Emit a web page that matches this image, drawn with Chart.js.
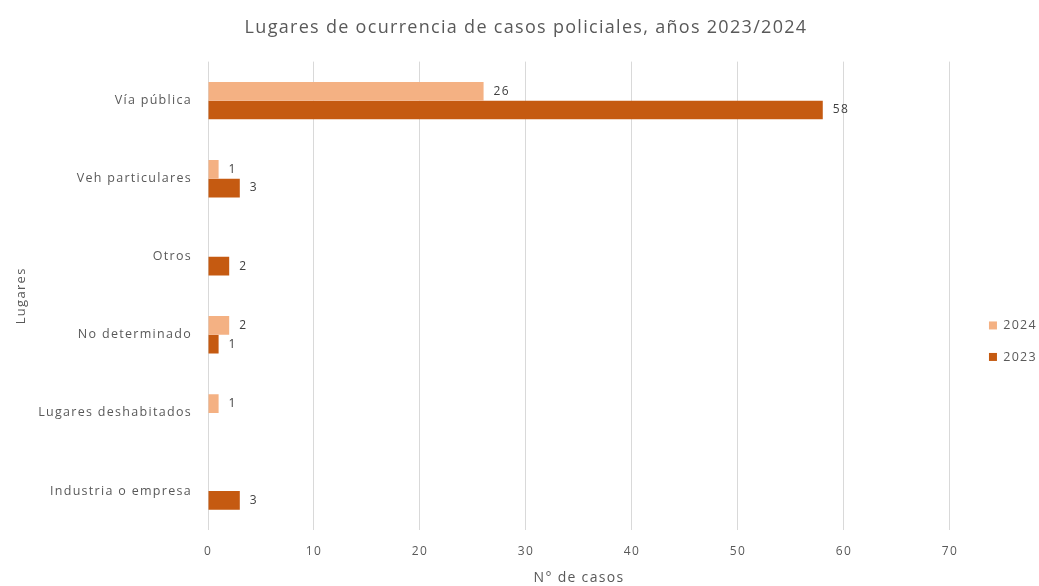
<!DOCTYPE html>
<html>
<head>
<meta charset="utf-8">
<script src="https://cdn.jsdelivr.net/npm/chart.js@4"></script>
<style>
  html, body { margin: 0; padding: 0; background: #fff; }
  #wrap { width: 1039px; height: 586px; }
</style>
</head>
<body>
<div id="wrap"><canvas id="myChart"></canvas></div>
<script>
// data
const lugares = [
  'Vía pública',
  'Veh particulares',
  'Otros',
  'No determinado',
  'Lugares deshabitados',
  'Industria o empresa'
];
const casos2024 = [26, 1, null, 2, 1, null];
const casos2023 = [58, 3, 2, 1, null, 3];
const xTicks = [0, 10, 20, 30, 40, 50, 60, 70];

const txt = '#595959';
const fam = '"Open Sans", sans-serif';
const spacing = '1.3px';

// the original text is spaced out a bit, so widen letters everywhere
const letterSpace = {
  id: 'letterSpace',
  beforeLayout(chart) { chart.ctx.letterSpacing = spacing; },
  beforeDraw(chart) { chart.ctx.letterSpacing = spacing; },
  afterLayout(chart) {
    // push legend items further right of the plot
    chart.legend.left += 20;
    chart.legend.right += 20;
  }
};

// value labels at the end of each bar
const barLabels = {
  id: 'barLabels',
  afterDatasetsDraw(chart) {
    const ctx = chart.ctx;
    ctx.save();
    ctx.letterSpacing = spacing;
    ctx.font = '12px ' + fam;
    ctx.fillStyle = '#404040';
    ctx.textAlign = 'left';
    ctx.textBaseline = 'middle';
    chart.data.datasets.forEach((ds, i) => {
      chart.getDatasetMeta(i).data.forEach((bar, j) => {
        const v = ds.data[j];
        if (v == null) return;
        ctx.fillText(v, bar.x + 10, bar.y);
      });
    });
    ctx.restore();
  }
};

const data = {
  labels: lugares,
  datasets: [{
    label: '2024',
    data: casos2024,
    backgroundColor: '#F4B183',
    categoryPercentage: 0.48,
    barPercentage: 1
  }, {
    label: '2023',
    data: casos2023,
    backgroundColor: '#C55A11',
    categoryPercentage: 0.48,
    barPercentage: 1
  }]
};

const config = {
  type: 'bar',
  data: data,
  options: {
    indexAxis: 'y',
    responsive: true,
    maintainAspectRatio: false,
    animation: false,
    layout: { padding: { left: 25, right: 12 } },
    scales: {
      x: {
        min: 0,
        max: 70,
        afterBuildTicks: (s) => { s.ticks = xTicks.map(v => ({ value: v })); },
        afterFit: (s) => { s.height = 56; },
        grid: { color: '#d9d9d9', drawTicks: false },
        border: { display: false },
        ticks: { color: txt, font: { family: fam, size: 12 }, padding: 14 },
        title: {
          display: true,
          text: 'N° de casos',
          color: txt,
          font: { family: fam, size: 14 },
          padding: { top: 0, bottom: 0 }
        }
      },
      y: {
        afterFit: (s) => { s.width = 183; },
        grid: { display: false, drawTicks: false },
        border: { display: false },
        ticks: { color: txt, font: { family: fam, size: 12.5 }, padding: 16 },
        title: {
          display: true,
          text: 'Lugares',
          color: txt,
          font: { family: fam, size: 13 },
          // title sits left of the padded area, pull it back with a negative offset
          padding: { top: -12, bottom: 0 }
        }
      }
    },
    plugins: {
      title: {
        display: true,
        text: 'Lugares de ocurrencia de casos policiales, años 2023/2024',
        color: txt,
        font: { family: fam, size: 18, weight: 'normal' },
        padding: { top: 17, bottom: 23 }
      },
      legend: {
        position: 'right',
        align: 'center',
        title: { display: true, text: '', padding: { top: 0, bottom: 82 } },
        labels: {
          color: txt,
          font: { family: fam, size: 12.5 },
          boxWidth: 8,
          boxHeight: 8,
          padding: 19
        }
      },
      tooltip: { enabled: false }
    }
  },
  plugins: [letterSpace, barLabels]
};

const myChart = new Chart(document.getElementById('myChart'), config);
</script>
</body>
</html>
